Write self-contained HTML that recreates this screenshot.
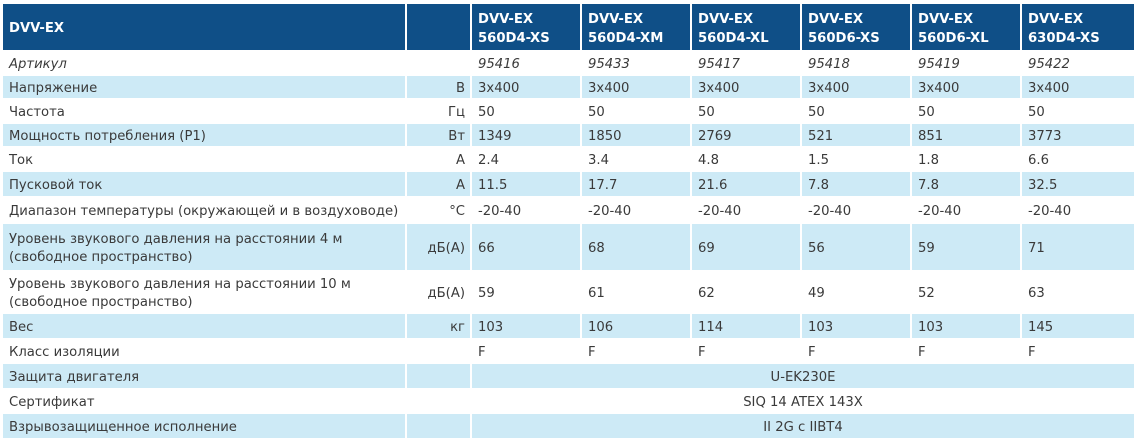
<!DOCTYPE html>
<html><head><meta charset="utf-8"><style>
body{margin:0;width:1136px;height:440px;background:#fff;position:relative;overflow:hidden;font-family:"DejaVu Sans","Liberation Sans",sans-serif;font-size:13.2px;color:#3a3a3a}
.c{position:absolute;box-sizing:border-box;padding-left:6px;padding-top:3px;display:flex;align-items:center;white-space:nowrap;line-height:18px}
.h{background:#0f4f87;color:#fff;font-weight:bold;line-height:19px}
.l{background:#cdeaf6}
.u{justify-content:flex-end;padding-right:5px;padding-left:0}
.m{justify-content:center;padding-left:0}
i{font-style:italic}
</style></head><body>
<div id="t"></div>
<script>
var X=[472,582,692,802,912,1022],W=[108,108,108,108,108,112];
var H='';
function cell(x,y,w,h,cls,txt){H+='<div class="c '+cls+'" style="left:'+x+'px;top:'+y+'px;width:'+w+'px;height:'+h+'px">'+txt+'</div>';}
cell(3,4,402,46,'h','DVV-EX');cell(407,4,63,46,'h','');
var hd=['560D4-XS','560D4-XM','560D4-XL','560D6-XS','560D6-XL','630D4-XS'];
for(var i=0;i<6;i++)cell(X[i],4,W[i],46,'h','<span>DVV-EX<br>'+hd[i]+'</span>');
var rows=[
[52,22,'<i>Артикул</i>','',['<i>95416</i>','<i>95433</i>','<i>95417</i>','<i>95418</i>','<i>95419</i>','<i>95422</i>']],
[76,22,'Напряжение','В',['3x400','3x400','3x400','3x400','3x400','3x400']],
[100,22,'Частота','Гц',['50','50','50','50','50','50']],
[124,22,'Мощность потребления (P1)','Вт',['1349','1850','2769','521','851','3773']],
[148,22,'Ток','А',['2.4','3.4','4.8','1.5','1.8','6.6']],
[172,24,'Пусковой ток','А',['11.5','17.7','21.6','7.8','7.8','32.5']],
[198,24,'Диапазон температуры (окружающей и в воздуховоде)','°C',['-20-40','-20-40','-20-40','-20-40','-20-40','-20-40']],
[224,46,'<span>Уровень звукового давления на расстоянии 4 м<br>(свободное пространство)</span>','дБ(А)',['66','68','69','56','59','71']],
[272,40,'<span>Уровень звукового давления на расстоянии 10 м<br>(свободное пространство)</span>','дБ(А)',['59','61','62','49','52','63']],
[314,24,'Вес','кг',['103','106','114','103','103','145']],
[340,22,'Класс изоляции','',['F','F','F','F','F','F']],
[364,24,'Защита двигателя','','U-EK230E'],
[390,22,'Сертификат','','SIQ 14 ATEX 143X'],
[414,24,'Взрывозащищенное исполнение','','II 2G c IIBT4']];
rows.forEach(function(r,k){var cl=(k%2)?'l':'';
cell(3,r[0],402,r[1],cl,r[2]);cell(407,r[0],63,r[1],cl+' u',r[3]);
if(typeof r[4]=='string')cell(472,r[0],662,r[1],cl+' m',r[4]);
else for(var i=0;i<6;i++)cell(X[i],r[0],W[i],r[1],cl,r[4][i]);});
document.getElementById('t').innerHTML=H;
</script>
</body></html>
